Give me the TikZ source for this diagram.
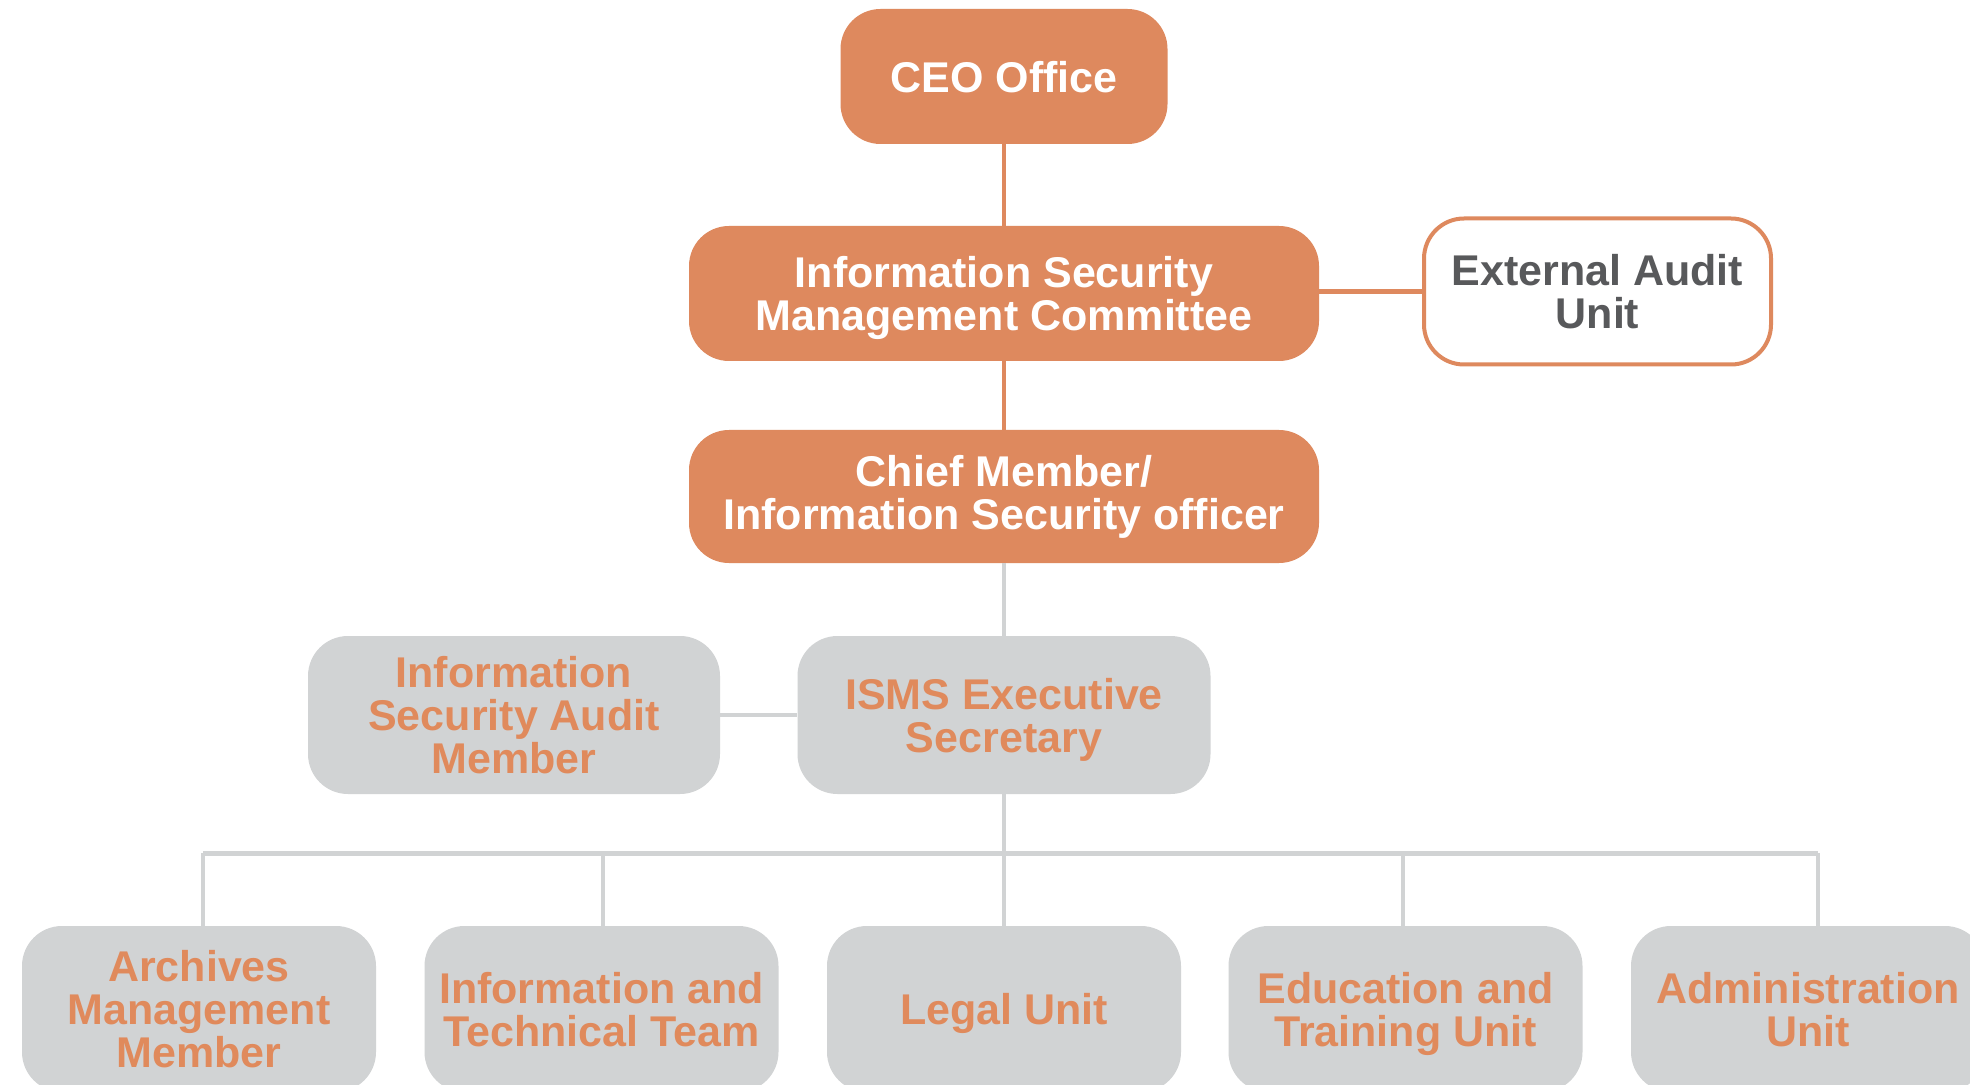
\documentclass[tikz,border=0pt]{standalone}
\usepackage{fontspec}
\setmainfont{Liberation Sans}
\definecolor{orfill}{HTML}{DE895E}
\definecolor{ortext}{HTML}{E08A5C}
\definecolor{boxgray}{HTML}{D1D3D4}
\definecolor{linegray}{HTML}{D1D3D4}
\definecolor{darktext}{HTML}{58595B}
\tikzset{
  base/.style={rounded corners=20pt, align=center, inner sep=0pt, text depth=0pt,
    font=\fontsize{21.5}{21.5}\selectfont\bfseries},
  orbox/.style={base, fill=orfill, text=white},
  graybox/.style={base, fill=boxgray, text=ortext},
  whitebox/.style={base, fill=white, draw=orfill, line width=2pt, text=darktext},
  orline/.style={draw=orfill, line width=2.25pt},
  grline/.style={draw=linegray, line width=2pt},
  busline/.style={draw=linegray, line width=2.5pt}
}
\begin{document}
\begin{tikzpicture}[x=0.5pt, y=-0.5pt]
\fill[white] (0,0) rectangle (1970,1085);
\useasboundingbox (0,0) rectangle (1970,1085);
\clip (0,0) rectangle (1970,1085);
% top nodes
\node[orbox, minimum width=163.5pt, minimum height=67.5pt] (ceo) at (1004,76.5) {CEO Office};
\node[orbox, minimum width=315pt, minimum height=67.5pt] (ismc) at (1004,293.5) {Information Security\\Management Committee};
\node[whitebox, minimum width=173.5pt, minimum height=73pt] (ext) at (1597.5,291.5) {External Audit\\Unit};
\node[orbox, text depth=, minimum width=315pt, minimum height=66.5pt] (chief) at (1004,496.5) {Chief Member/\\Information Security officer};
% middle nodes
\node[graybox, minimum width=206pt, minimum height=79pt] (isa) at (514,715) {Information\\Security Audit\\Member};
\node[graybox, minimum width=206.5pt, minimum height=79pt] (isms) at (1004,715) {ISMS Executive\\Secretary};
% bottom nodes
\node[graybox, minimum width=177pt, minimum height=83pt] (arch) at (199,1009) {Archives\\Management\\Member};
\node[graybox, minimum width=177pt, minimum height=83pt] (info) at (601.5,1009) {Information and\\Technical Team};
\node[graybox, minimum width=177pt, minimum height=83pt] (legal) at (1004,1009) {Legal Unit};
\node[graybox, minimum width=177pt, minimum height=83pt] (edu) at (1405.5,1009) {Education and\\Training Unit};
\node[graybox, minimum width=177pt, minimum height=83pt] (admin) at (1808,1009) {Administration\\Unit};
% connectors
\draw[orline] (ceo.south) -- (ismc.north);
\draw[orline] (ismc.south) -- (chief.north);
\draw[orline] (ismc.east |- ext.west) -- (ext.west);
\draw[grline] (chief.south) -- (isms.north);
\draw[grline] (isa.east) -- (isms.west);
\draw[grline] (isms.south) -- (legal.north);
\coordinate (busL) at (203,853);
\coordinate (bus2) at (603,853);
\coordinate (bus4) at (1403,853);
\coordinate (busR) at (1818,853);
\draw[busline] (busL) -- (busR);
\draw[grline] (busL) -- (busL |- arch.north);
\draw[grline] (bus2) -- (bus2 |- info.north);
\draw[grline] (bus4) -- (bus4 |- edu.north);
\draw[grline] (busR) -- (busR |- admin.north);
\end{tikzpicture}
\end{document}
